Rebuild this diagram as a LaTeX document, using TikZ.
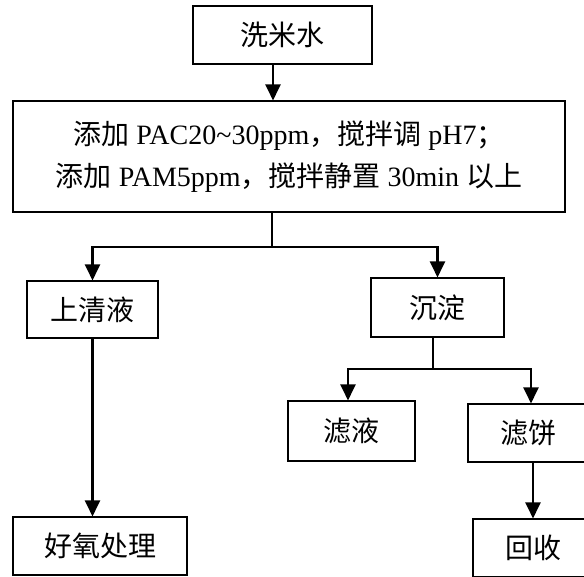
\documentclass[tikz,border=0pt]{standalone}
\usepackage{fontspec}
\setmainfont{Liberation Serif}
\newfontfamily\cjk{Noto Sans CJK SC}
\usetikzlibrary{arrows.meta}
\tikzset{
  box/.style={draw=black, line width=1.1pt, fill=white, inner sep=0pt, align=center,
    font=\fontsize{28}{42}\selectfont},
  zh/.style={font=\fontsize{28}{42}\selectfont\cjk},
  conn/.style={draw=black, line width=2.2pt},
  arr/.style={conn, -{Triangle[length=16pt,width=15pt]}}
}
\begin{document}
\begin{tikzpicture}[x=1pt,y=-1pt]
\useasboundingbox (0,0) rectangle (584,577);
\clip (0,0) rectangle (584,577);
\fill[white] (0,0) rectangle (584,577);
\node[box, zh, minimum width=179, minimum height=58] (wash) at (282.5,35) {洗米水};
\node[box, minimum width=552, minimum height=111] (mix) at (289,156.5)
  {{\cjk 添加} PAC20\textasciitilde 30ppm{\cjk ，搅拌调} pH7{\cjk ；}\\
   {\cjk 添加} PAM5ppm{\cjk ，搅拌静置} 30min {\cjk 以上}};
\node[box, zh, minimum width=131, minimum height=57] (clear) at (92.5,309.5) {上清液};
\node[box, zh, minimum width=133, minimum height=59] (sed) at (437.5,307.5) {沉淀};
\node[box, zh, minimum width=127, minimum height=60] (filt) at (351.5,431) {滤液};
\node[box, zh, minimum width=120, minimum height=58] (cake) at (528,433) {滤饼};
\node[box, zh, minimum width=174, minimum height=58] (aer) at (100,546) {好氧处理};
\node[box, zh, minimum width=121, minimum height=58] (rec) at (533.5,548) {回收};
% helper coordinates
\coordinate (x1) at (273,0);
\coordinate (x2) at (272,0);
\coordinate (y1) at (0,247);
\coordinate (x3) at (433,0);
\coordinate (y2) at (0,369);
\coordinate (x4) at (348,0);
\coordinate (x5) at (531,0);
\coordinate (x6) at (533,0);
% connectors
\draw[arr] (wash.south -| x1) -- (mix.north -| x1);
\draw[conn] (mix.south -| x2) -- (x2 |- y1);
\draw[arr] (x2 |- y1) -| (clear.north);
\draw[arr] (x2 |- y1) -| (sed.north);
\draw[conn] (sed.south -| x3) -- (x3 |- y2);
\draw[arr] (x3 |- y2) -| (filt.north -| x4);
\draw[arr] (x3 |- y2) -| (cake.north -| x5);
\draw[arr] (clear.south) -- (clear.south |- aer.north);
\draw[arr] (cake.south -| x6) -- (rec.north -| x6);
\end{tikzpicture}
\end{document}
